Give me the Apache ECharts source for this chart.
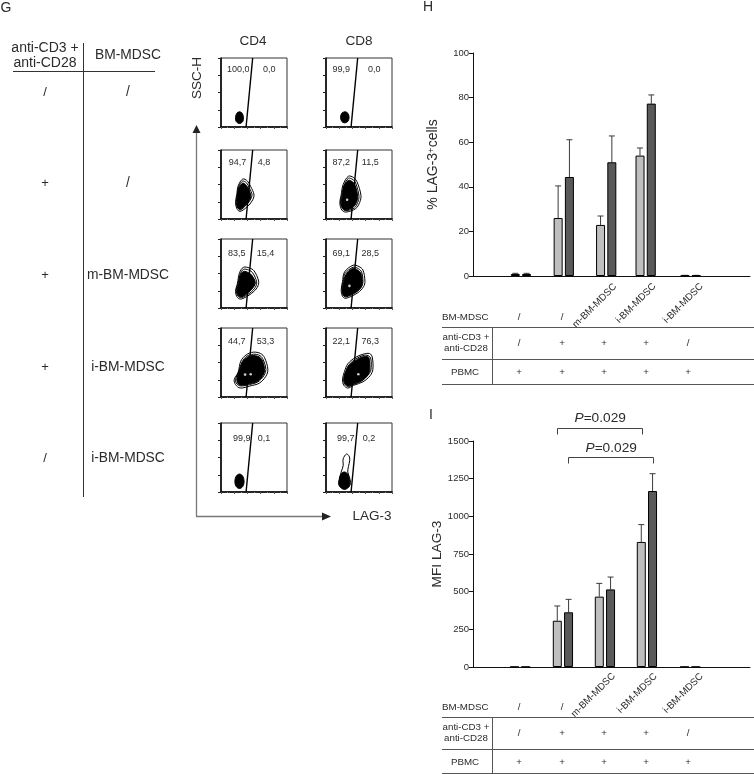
<!DOCTYPE html>
<html><head><meta charset="utf-8">
<style>html,body{margin:0;padding:0;background:#fff}#c{width:754px;height:774px}</style>
<script src="https://cdn.jsdelivr.net/npm/echarts@6/dist/echarts.min.js"></script>
</head><body><div id="c"></div>
<script>
// ---------- H: % LAG-3+ cells
const lagSlots = [1.13, 2.14, 3.14, 4.07, 5.13];
const lagCD4 = [0.9, 26, 22.9, 54, 0.2];
const lagCD8 = [0.9, 44.4, 51, 77.3, 0.2];
const lagCD4Err = [1.2, 40.4, 26.9, 57.4, 0.3];
const lagCD8Err = [1.2, 61.1, 62.8, 81.2, 0.3];
// ---------- I: MFI LAG-3
const mfiSlots = [1.11, 2.12, 3.11, 4.10, 5.12];
const mfiCD4 = [0, 307, 467, 830, 0];
const mfiCD8 = [0, 363, 515, 1168, 0];
const mfiCD4Err = [0, 405, 555, 945, 0];
const mfiCD8Err = [0, 449, 597, 1283, 0];
// ---------- G: quadrant percentages (rows top to bottom)
const cd4Left = ['100,0', '94,7', '83,5', '44,7', '99,9'];
const cd4Right = ['0,0', '4,8', '15,4', '53,3', '0,1'];
const cd8Left = ['99,9', '87,2', '69,1', '22,1', '99,7'];
const cd8Right = ['0,0', '11,5', '28,5', '76,3', '0,2'];
const gateLine = [[38, 0], [48, 100]];
// contour outlines, in panel units; the last outline of each panel is solid
const cd4Contours = [
  [[[28,22],[32,20],[34,14],[33,8],[28,5],[23,8],[22,14],[24,20]]],
  [[[33,58],[40,55],[45,47],[50,35],[47,26],[40,18],[29,11],[24,15],[22,24],[24,36],[26,48]],
   [[33,55],[39,52],[43,45],[47,35],[44,27],[38,20],[29,13],[25,17],[23,24],[25,36],[27,47]],
   [[33,52],[38,49],[42,43],[45,34],[43,27],[37,20],[29,14],[25,17],[24,25],[25,36],[27,45]]],
  [[[34,59],[43,58],[50,54],[57,39],[55,30],[46,21],[31,13],[25,15],[22,24],[25,36],[28,51]],
   [[34,56],[42,55],[48,51],[54,38],[52,30],[44,22],[31,15],[26,17],[23,25],[26,36],[29,49]],
   [[34,53],[42,51],[47,47],[52,37],[49,30],[42,23],[31,16],[26,18],[24,25],[27,36],[29,47]]],
  [[[49,65],[60,63],[66,57],[71,40],[68,30],[58,20],[44,16],[29,13],[22,18],[20,25],[26,36],[30,52],[38,61]],
   [[49,62],[59,60],[64,54],[68,40],[65,31],[56,22],[43,18],[30,16],[24,19],[22,25],[27,37],[32,51],[39,59]],
   [[47,60],[58,58],[63,52],[66,38],[62,29],[54,22],[42,19],[31,17],[26,19],[24,26],[28,38],[32,50],[39,57]]],
  [[[28,26],[33,23],[35,15],[33,8],[28,5],[23,8],[21,15],[23,23]]]
];
const cd8Contours = [
  [[[29,22],[33,20],[35,14],[33,8],[28,6],[24,8],[22,14],[24,20]]],
  [[[34,62],[42,60],[47,54],[53,34],[51,24],[45,15],[30,10],[24,13],[21,23],[23,35],[26,50]],
   [[34,59],[41,57],[45,52],[50,33],[48,24],[43,16],[30,12],[25,15],[22,24],[24,35],[27,48]],
   [[34,56],[40,54],[44,49],[48,33],[46,24],[41,17],[30,13],[25,16],[23,24],[25,35],[27,47]]],
  [[[41,62],[50,60],[56,55],[59,39],[57,31],[48,22],[30,14],[25,17],[23,26],[25,38],[28,52]],
   [[41,59],[49,57],[54,52],[56,38],[54,31],[46,23],[30,16],[26,19],[24,27],[26,38],[29,50]],
   [[40,57],[48,55],[53,50],[55,38],[53,30],[45,23],[30,17],[26,19],[25,27],[27,38],[30,48]]],
  [[[56,62],[66,63],[70,58],[71,40],[67,31],[56,22],[42,17],[33,13],[27,17],[25,25],[28,37],[33,48],[44,57]],
   [[56,60],[64,60],[68,55],[68,39],[64,32],[54,23],[41,18],[34,15],[28,19],[27,26],[30,37],[35,47],[45,55]],
   [[55,58],[64,58],[66,53],[66,38],[62,30],[52,23],[41,19],[35,16],[29,19],[27,27],[30,37],[35,46],[45,53]]],
  [[[31,55],[35,52],[36,46],[34,37],[33,29],[36,20],[37,12],[33,6],[28,4],[23,6],[19,12],[21,20],[23,29],[26,38],[26,48]],
   [[27,29],[32,27],[35,20],[36,11],[33,6],[28,4],[23,6],[20,10],[20,18],[22,25]]]
];
const cd4Specks = [[], [], [], [[36.5,32.5],[45,33]], []];
const cd8Specks = [[], [[32,28]], [[35.5,32]], [[49,33]], []];
// ---------- table text
const gRowsStim = ['/', '+', '+', '+', '/'];
const gRowsMdsc = ['/', '/', 'm-BM-MDSC', 'i-BM-MDSC', 'i-BM-MDSC'];
const tableMdsc = ['/', '/', 'm-BM-MDSC', 'i-BM-MDSC', 'i-BM-MDSC'];
const tableStim = ['/', '+', '+', '+', '/'];
const tablePbmc = ['+', '+', '+', '+', '+'];
const pLabel = '0.029';

// ---------- layout
const FONT = '"Liberation Sans", Arial, sans-serif';
const INK = '#2b2b2b';
const panelW = 66, panelH = 69;
const colLeft = [221, 326];
const rowTop = [58, 150, 239, 328, 423];
const labelRowY = [84, 82, 79, 80, 78];
const cd4LabelX = [[26,73],[25,65],[24,67.5],[24,67.5],[31.5,65]];
const cd8LabelX = [[23,73],[23,67],[23,67],[23,67],[30,65]];
const tableCols = [519, 562, 604, 646, 688];

const grids = [], xAxes = [], yAxes = [], series = [];

function barChart(o) {
  const gi = grids.length;
  grids.push({left: 473, width: 277, top: o.top, height: o.height});
  xAxes.push({type: 'value', gridIndex: gi, min: 0, max: 6.53, show: true,
    axisLine: {show: true, onZero: false, lineStyle: {color: '#111', width: 1}},
    axisTick: {show: false}, axisLabel: {show: false}, splitLine: {show: false}});
  yAxes.push({type: 'value', gridIndex: gi, min: 0, max: o.max, interval: o.interval,
    name: o.name, nameLocation: 'middle', nameGap: o.nameGap,
    nameTextStyle: {fontFamily: FONT, fontSize: 13.7, color: INK, rich: {
      sup: {fontFamily: FONT, fontSize: 9.5, color: INK, verticalAlign: 'top', padding: [0,0,5,0]},
      t: {fontFamily: FONT, fontSize: 14, color: INK}}},
    axisLine: {show: true, onZero: false, lineStyle: {color: '#111', width: 1}},
    axisTick: {show: true, length: 4, lineStyle: {color: '#111'}},
    axisLabel: {fontFamily: FONT, fontSize: 9.5, color: INK, margin: 4, formatter: v => String(v)},
    splitLine: {show: false}});
  [[o.cd4, '#bfbfbf', 'CD4'], [o.cd8, '#595959', 'CD8']].forEach(([vals, col, nm]) => {
    series.push({type: 'bar', name: nm, xAxisIndex: gi, yAxisIndex: gi, barWidth: 9, barGap: '25%',
      data: vals.map((v, i) => [o.slots[i], v]),
      itemStyle: {color: col, borderColor: '#000', borderWidth: 1}});
  });
  [[o.cd4, o.cd4Err, -5.65], [o.cd8, o.cd8Err, 5.65]].forEach(([vals, errs, dx]) => {
    series.push({type: 'custom', xAxisIndex: gi, yAxisIndex: gi, silent: true, clip: false,
      data: vals.map((v, i) => [o.slots[i], v, errs[i]]),
      encode: {x: 0, y: [1, 2]},
      renderItem(p, api) {
        const a = api.coord([api.value(0), api.value(1)]);
        const b = api.coord([api.value(0), api.value(2)]);
        const x = a[0] + dx, st = {stroke: '#3a3a3a', lineWidth: 1, fill: null};
        return {type: 'group', children: [
          {type: 'line', shape: {x1: x, y1: a[1], x2: x, y2: b[1]}, style: st},
          {type: 'line', shape: {x1: x - 3, y1: b[1], x2: x + 3, y2: b[1]}, style: st}]};
      }});
  });
}
barChart({top: 53, height: 223, max: 100, interval: 20, nameGap: 32,
  name: '{t|% LAG-3}{sup|+}{t|cells}', slots: lagSlots,
  cd4: lagCD4, cd8: lagCD8, cd4Err: lagCD4Err, cd8Err: lagCD8Err});
barChart({top: 441, height: 226, max: 1500, interval: 250, nameGap: 29,
  name: 'MFI LAG-3', slots: mfiSlots,
  cd4: mfiCD4, cd8: mfiCD8, cd4Err: mfiCD4Err, cd8Err: mfiCD8Err});

function panel(col, row, contours, specks, left, right, lx) {
  const gi = grids.length;
  grids.push({left: colLeft[col], top: rowTop[row], width: panelW, height: panelH,
    show: true, borderColor: '#333', borderWidth: 1, backgroundColor: 'transparent'});
  xAxes.push({type: 'value', gridIndex: gi, min: 0, max: 100, interval: 20,
    axisLine: {show: true, onZero: false, lineStyle: {color: '#000', width: 1.5}},
    axisTick: {show: true, length: 2, lineStyle: {color: '#555'}},
    minorTick: {show: true, splitNumber: 2, length: 1, lineStyle: {color: '#888'}},
    axisLabel: {show: false}, splitLine: {show: false}});
  yAxes.push({type: 'value', gridIndex: gi, min: 0, max: 100, interval: 25,
    axisLine: {show: true, onZero: false, lineStyle: {color: '#000', width: 1.5}},
    axisTick: {show: true, length: 3, lineStyle: {color: '#222'}},
    axisLabel: {show: false}, splitLine: {show: false}});
  series.push({type: 'custom', xAxisIndex: gi, yAxisIndex: gi, silent: true, clip: true,
    data: contours.map((c, i) => [c[0][0], c[0][1], i]),
    renderItem(p, api) {
      const i = api.value(2), pts = contours[i].map(q => api.coord(q));
      const last = i === contours.length - 1;
      return {type: 'polygon', shape: {points: pts, smooth: 0.33},
        style: {fill: last ? '#000' : 'none', stroke: '#000', lineWidth: 1}};
    }});
  series.push({type: 'line', xAxisIndex: gi, yAxisIndex: gi, silent: true, symbol: 'none',
    data: gateLine, lineStyle: {color: '#000', width: 1.4}});
  if (specks.length) series.push({type: 'scatter', xAxisIndex: gi, yAxisIndex: gi, silent: true,
    symbolSize: 2.6, data: specks, itemStyle: {color: '#fff'}});
  series.push({type: 'custom', xAxisIndex: gi, yAxisIndex: gi, silent: true,
    data: [[lx[0], labelRowY[row], left], [lx[1], labelRowY[row], right]],
    renderItem(p, api) {
      const c = api.coord([api.value(0), api.value(1)]);
      return {type: 'text', x: c[0], y: c[1],
        style: {text: p.dataIndex ? right : left, font: '9px ' + FONT, fill: INK, textAlign: 'center', textVerticalAlign: 'middle'}};
    }});
}
for (let r = 0; r < 5; r++) {
  panel(0, r, cd4Contours[r], cd4Specks[r], cd4Left[r], cd4Right[r], cd4LabelX[r]);
  panel(1, r, cd8Contours[r], cd8Specks[r], cd8Left[r], cd8Right[r], cd8LabelX[r]);
}

// ---------- graphic annotations
const g = [];
const text = (s, x, y, size, extra) => g.push(Object.assign({type: 'text', x, y, silent: true,
  style: Object.assign({text: s, font: size + 'px ' + FONT, fill: INK, textAlign: 'center', textVerticalAlign: 'middle'}, (extra && extra.style) || {})},
  extra && extra.rotation != null ? {rotation: extra.rotation} : {}));
const line = (x1, y1, x2, y2, color, w) => g.push({type: 'line', silent: true, shape: {x1, y1, x2, y2}, style: {stroke: color, lineWidth: w || 1}});
const tri = (pts) => g.push({type: 'polygon', silent: true, shape: {points: pts}, style: {fill: '#222'}});

text('G', 6, 8, 14); text('H', 428, 7, 14); text('I', 431, 415, 14);
text('anti-CD3 +', 45, 48.5, 14); text('anti-CD28', 45, 63.5, 14); text('BM-MDSC', 128, 55, 13.8);
line(13, 71.5, 155, 71.5, '#333'); line(83.5, 43, 83.5, 497, '#333');
const gY = [92, 183, 275, 367, 458];
gRowsStim.forEach((s, i) => text(s, 45, gY[i], 13));
gRowsMdsc.forEach((s, i) => text(s, 128, gY[i], 13.8));

text('CD4', 253, 41.5, 13.5); text('CD8', 359, 41.5, 13.5);
text('SSC-H', 197, 78, 13.5, {rotation: Math.PI / 2});
text('LAG-3', 372, 516, 13.5);
line(196.5, 132, 196.5, 516, '#777', 1.3); line(196, 516.5, 324, 516.5, '#777', 1.3);
tri([[196.5, 125], [192.5, 133], [200.5, 133]]); tri([[331, 516.5], [322, 512.5], [322, 520.5]]);

function table(o) {
  line(442, o.l1, 754, o.l1, '#555'); line(442, o.l2, 754, o.l2, '#555'); line(442, o.l3, 754, o.l3, '#555');
  line(492.5, o.l1, 492.5, o.l3, '#555');
  g.push({type: 'text', x: 442, y: o.l1 - 10.5, silent: true, style: {text: 'BM-MDSC', font: '9.75px ' + FONT, fill: INK, textAlign: 'left', textVerticalAlign: 'middle'}});
  text('anti-CD3 +', 466, o.l1 + 10, 9.75); text('anti-CD28', 466, o.l1 + 21, 9.75);
  text('PBMC', 465, o.l2 + 13, 9.75);
  tableMdsc.forEach((s, i) => {
    if (s === '/') text(s, tableCols[i], o.l1 - 10, 9.75);
    else text(s, o.rot[i][0], o.rot[i][1], 9.75, {rotation: Math.PI / 4});
  });
  tableStim.forEach((s, i) => text(s, tableCols[i], o.l1 + 15.5, 9.75));
  tablePbmc.forEach((s, i) => text(s, tableCols[i], o.l2 + 12.5, 9.75));
}
table({l1: 327.5, l2: 359.5, l3: 384.5, rot: [0, 0, [594.7, 305.7], [636, 303.3], [683.3, 303.3]]});
table({l1: 717.5, l2: 749.5, l3: 773.5, rot: [0, 0, [593.3, 695], [637.3, 693.3], [683.3, 693.3]]});

function bracket(x1, x2, y, tx, ty) {
  g.push({type: 'polyline', silent: true, shape: {points: [[x1, y + 6], [x1, y], [x2, y], [x2, y + 6]]}, style: {stroke: '#444', lineWidth: 1, fill: null}});
  g.push({type: 'text', x: tx - 25.5, y: ty, silent: true, style: {
    rich: {p: {font: 'italic 13.7px ' + FONT, fill: INK}, n: {font: '13.7px ' + FONT, fill: INK}},
    text: '{p|P}{n|=' + pLabel + '}', font: '13.7px ' + FONT, fill: INK, textAlign: 'left', textVerticalAlign: 'middle'}});
}
bracket(557.5, 642.5, 428.5, 600, 418);
bracket(568.5, 653.5, 457.5, 611, 448);

const chart = echarts.init(document.getElementById('c'), null, {renderer: 'canvas'});
chart.setOption({animation: false, backgroundColor: '#fff', legend: {show: false}, tooltip: {show: false},
  grid: grids, xAxis: xAxes, yAxis: yAxes, series, graphic: {elements: g}});
</script></body></html>
